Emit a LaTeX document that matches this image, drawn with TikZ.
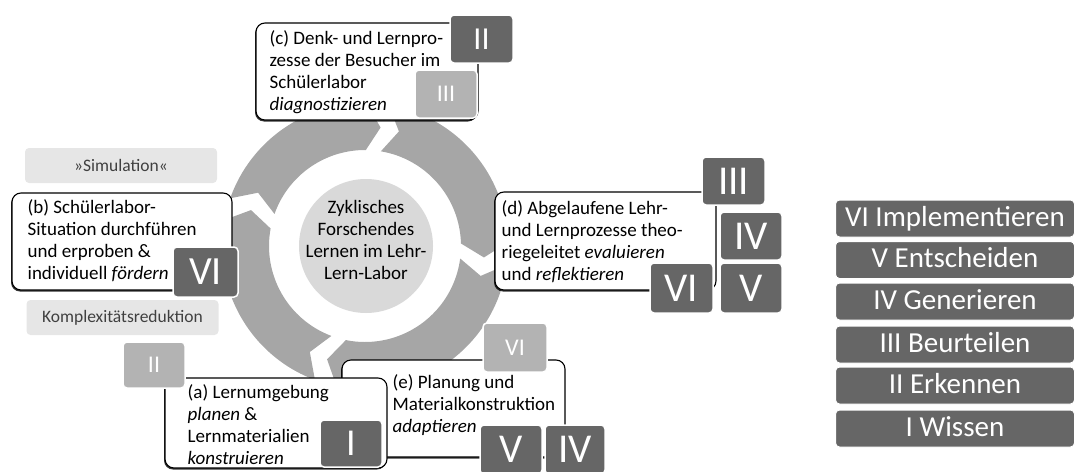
\documentclass[tikz,border=0pt]{standalone}
\usepackage{fontspec}
\setmainfont{Carlito}
\usetikzlibrary{shadows}

\definecolor{ringgray}{HTML}{A6A6A6}
\definecolor{coregray}{HTML}{D9D9D9}
\definecolor{numdark}{HTML}{666666}
\definecolor{numlight}{HTML}{B3B3B3}
\definecolor{notegray}{HTML}{E6E6E6}
\definecolor{notetext}{HTML}{404040}

\tikzset{
	ring/.style={fill=ringgray},
	phasebox/.style={draw=black, line width=1.1pt, fill=white, rounded corners=9pt, inner sep=0pt,
		drop shadow={shadow xshift=-1pt, shadow yshift=-1.5pt, fill=black, opacity=.8}},
	phasetext/.style={anchor=west, align=left, inner sep=0pt, font=\fontsize{19}{22}\selectfont},
	darknum/.style={fill=numdark, draw=white, line width=1.5pt, rounded corners=4pt, text=white,
		inner sep=0pt, font=\fontsize{41}{41}\selectfont},
	lightnum/.style={fill=numlight, draw=white, line width=1.5pt, rounded corners=4pt, text=white,
		inner sep=0pt, font=\fontsize{24}{24}\selectfont},
	notebox/.style={fill=notegray, rounded corners=4pt, text=notetext, inner sep=0pt,
		minimum width=192pt, minimum height=35pt, font=\fontsize{17.5}{20}\selectfont},
	levelbox/.style={fill=numdark, draw=white, line width=1pt, rounded corners=4pt, text=white, inner sep=0pt,
		minimum width=239pt, minimum height=37pt, text height=19pt, text depth=4pt, font=\fontsize{29}{29}\selectfont}
}

\begin{document}
\begin{tikzpicture}[x=1pt, y=1pt]
	\path[use as bounding box] (0,0) rectangle (1075,-471);

	% cycle ring
	\begin{scope}[shift={(365,-246)}]
		\fill[ring] (160.5:143) arc[start angle=160.5, end angle=89.5, radius=143] -- (82.5:119.5) -- (89.5:96) arc[start angle=89.5, end angle=160.5, radius=96] -- (153.5:119.5) -- cycle;
		\fill[ring] (80.5:143) arc[start angle=80.5, end angle=1.5, radius=143] -- (-5.5:119.5) -- (1.5:96) arc[start angle=1.5, end angle=80.5, radius=96] -- (73.5:119.5) -- cycle;
		\fill[ring] (-7.5:143) arc[start angle=-7.5, end angle=-101.5, radius=143] -- (-108.5:119.5) -- (-101.5:96) arc[start angle=-101.5, end angle=-7.5, radius=96] -- (-14.5:119.5) -- cycle;
		\fill[ring] (-110.5:143) arc[start angle=-110.5, end angle=-190.5, radius=143] -- (-197.5:119.5) -- (-190.5:96) arc[start angle=-190.5, end angle=-110.5, radius=96] -- (-117.5:119.5) -- cycle;
	\end{scope}
	\node[circle, fill=coregray, minimum size=134pt, inner sep=0pt] (core) at (366,-246) {};
	\node[align=center, inner sep=0pt, font=\fontsize{19}{22}\selectfont] (core-text) at (366,-240)
		{Zyklisches\\Forschendes\\Lernen im Lehr-\\Lern-Labor};

	% (e) and (a)
	\node[phasebox, minimum width=223pt, minimum height=97pt] (e-box) at (453.5,-408.5) {};
	\node[phasetext] (e-text) at ([xshift=51pt, yshift=3pt]e-box.west)
		{(e) Planung und\\Materialkonstruktion\\\emph{adaptieren}};
	\node[phasebox, minimum width=222pt, minimum height=90pt] (a-box) at (276,-423) {};
	\node[phasetext] (a-text) at ([xshift=23pt, yshift=-2pt]a-box.west)
		{(a) Lernumgebung\\\emph{planen} \&\\Lernmaterialien\\\emph{konstruieren}};
	\node[lightnum, minimum width=62pt, minimum height=46pt] (a-two) at (154,-365) {II};
	\node[darknum, minimum width=62pt, minimum height=47pt, font=\fontsize{38}{38}\selectfont] (a-one) at (351,-443.5) {I};
	\node[lightnum, minimum width=64pt, minimum height=49pt] (e-six) at (515,-347.5) {VI};
	\node[darknum, minimum width=62pt, minimum height=49pt] (e-five) at (511,-449.5) {V};
	\node[darknum, minimum width=60pt, minimum height=49pt] (e-four) at (575,-449.5) {IV};

	% (c)
	\node[phasebox, minimum width=222pt, minimum height=97pt] (c-box) at (367,-71.5) {};
	\node[phasetext] (c-text) at ([xshift=14pt, yshift=-1pt]c-box.west)
		{(c) Denk- und Lernpro-\\zesse der Besucher im\\Schülerlabor\\\emph{diagnostizieren}};
	\node[darknum, minimum width=63pt, minimum height=48pt, font=\fontsize{32}{32}\selectfont] (c-two) at (481.5,-39) {II};
	\node[lightnum, minimum width=62pt, minimum height=48pt] (c-three) at (446,-94) {III};

	% (b)
	\node[phasebox, minimum width=220pt, minimum height=97pt] (b-box) at (122,-241.5) {};
	\node[phasetext] (b-text) at ([xshift=16pt, yshift=1pt]b-box.west)
		{(b) Schülerlabor-\\Situation durchführen\\und erproben \&\\individuell \emph{fördern}};
	\node[darknum, minimum width=65pt, minimum height=50pt, font=\fontsize{40}{40}\selectfont] (b-six) at (205.5,-272) {VI};

	% (d)
	\node[phasebox, minimum width=221pt, minimum height=98pt] (d-box) at (605.5,-241) {};
	\node[phasetext] (d-text) at ([xshift=7pt, yshift=-1pt]d-box.west)
		{(d) Abgelaufene Lehr-\\und Lernprozesse theo-\\riegeleitet \emph{evaluieren}\\und \emph{reflektieren}};
	\node[darknum, minimum width=63pt, minimum height=48pt] (d-three) at (733.5,-181) {III};
	\node[darknum, minimum width=62pt, minimum height=48pt] (d-four) at (751,-236) {IV};
	\node[darknum, minimum width=63pt, minimum height=50pt] (d-six) at (681.5,-288) {VI};
	\node[darknum, minimum width=62pt, minimum height=50pt] (d-five) at (751,-288) {V};

	% notes
	\node[notebox] (simulation) at (121,-165.5) {»Simulation«};
	\node[notebox] (reduction) at (122.5,-317.5) {Komplexitätsreduktion};

	% levels
	\node[levelbox] (level-six) at (955,-218.5) {VI Implementieren};
	\node[levelbox] (level-five) at (955,-260) {V Entscheiden};
	\node[levelbox] (level-four) at (955,-301.5) {IV Generieren};
	\node[levelbox] (level-three) at (955,-344.5) {III Beurteilen};
	\node[levelbox] (level-two) at (955,-385.5) {II Erkennen};
	\node[levelbox] (level-one) at (955,-428.5) {I Wissen};
\end{tikzpicture}
\end{document}
